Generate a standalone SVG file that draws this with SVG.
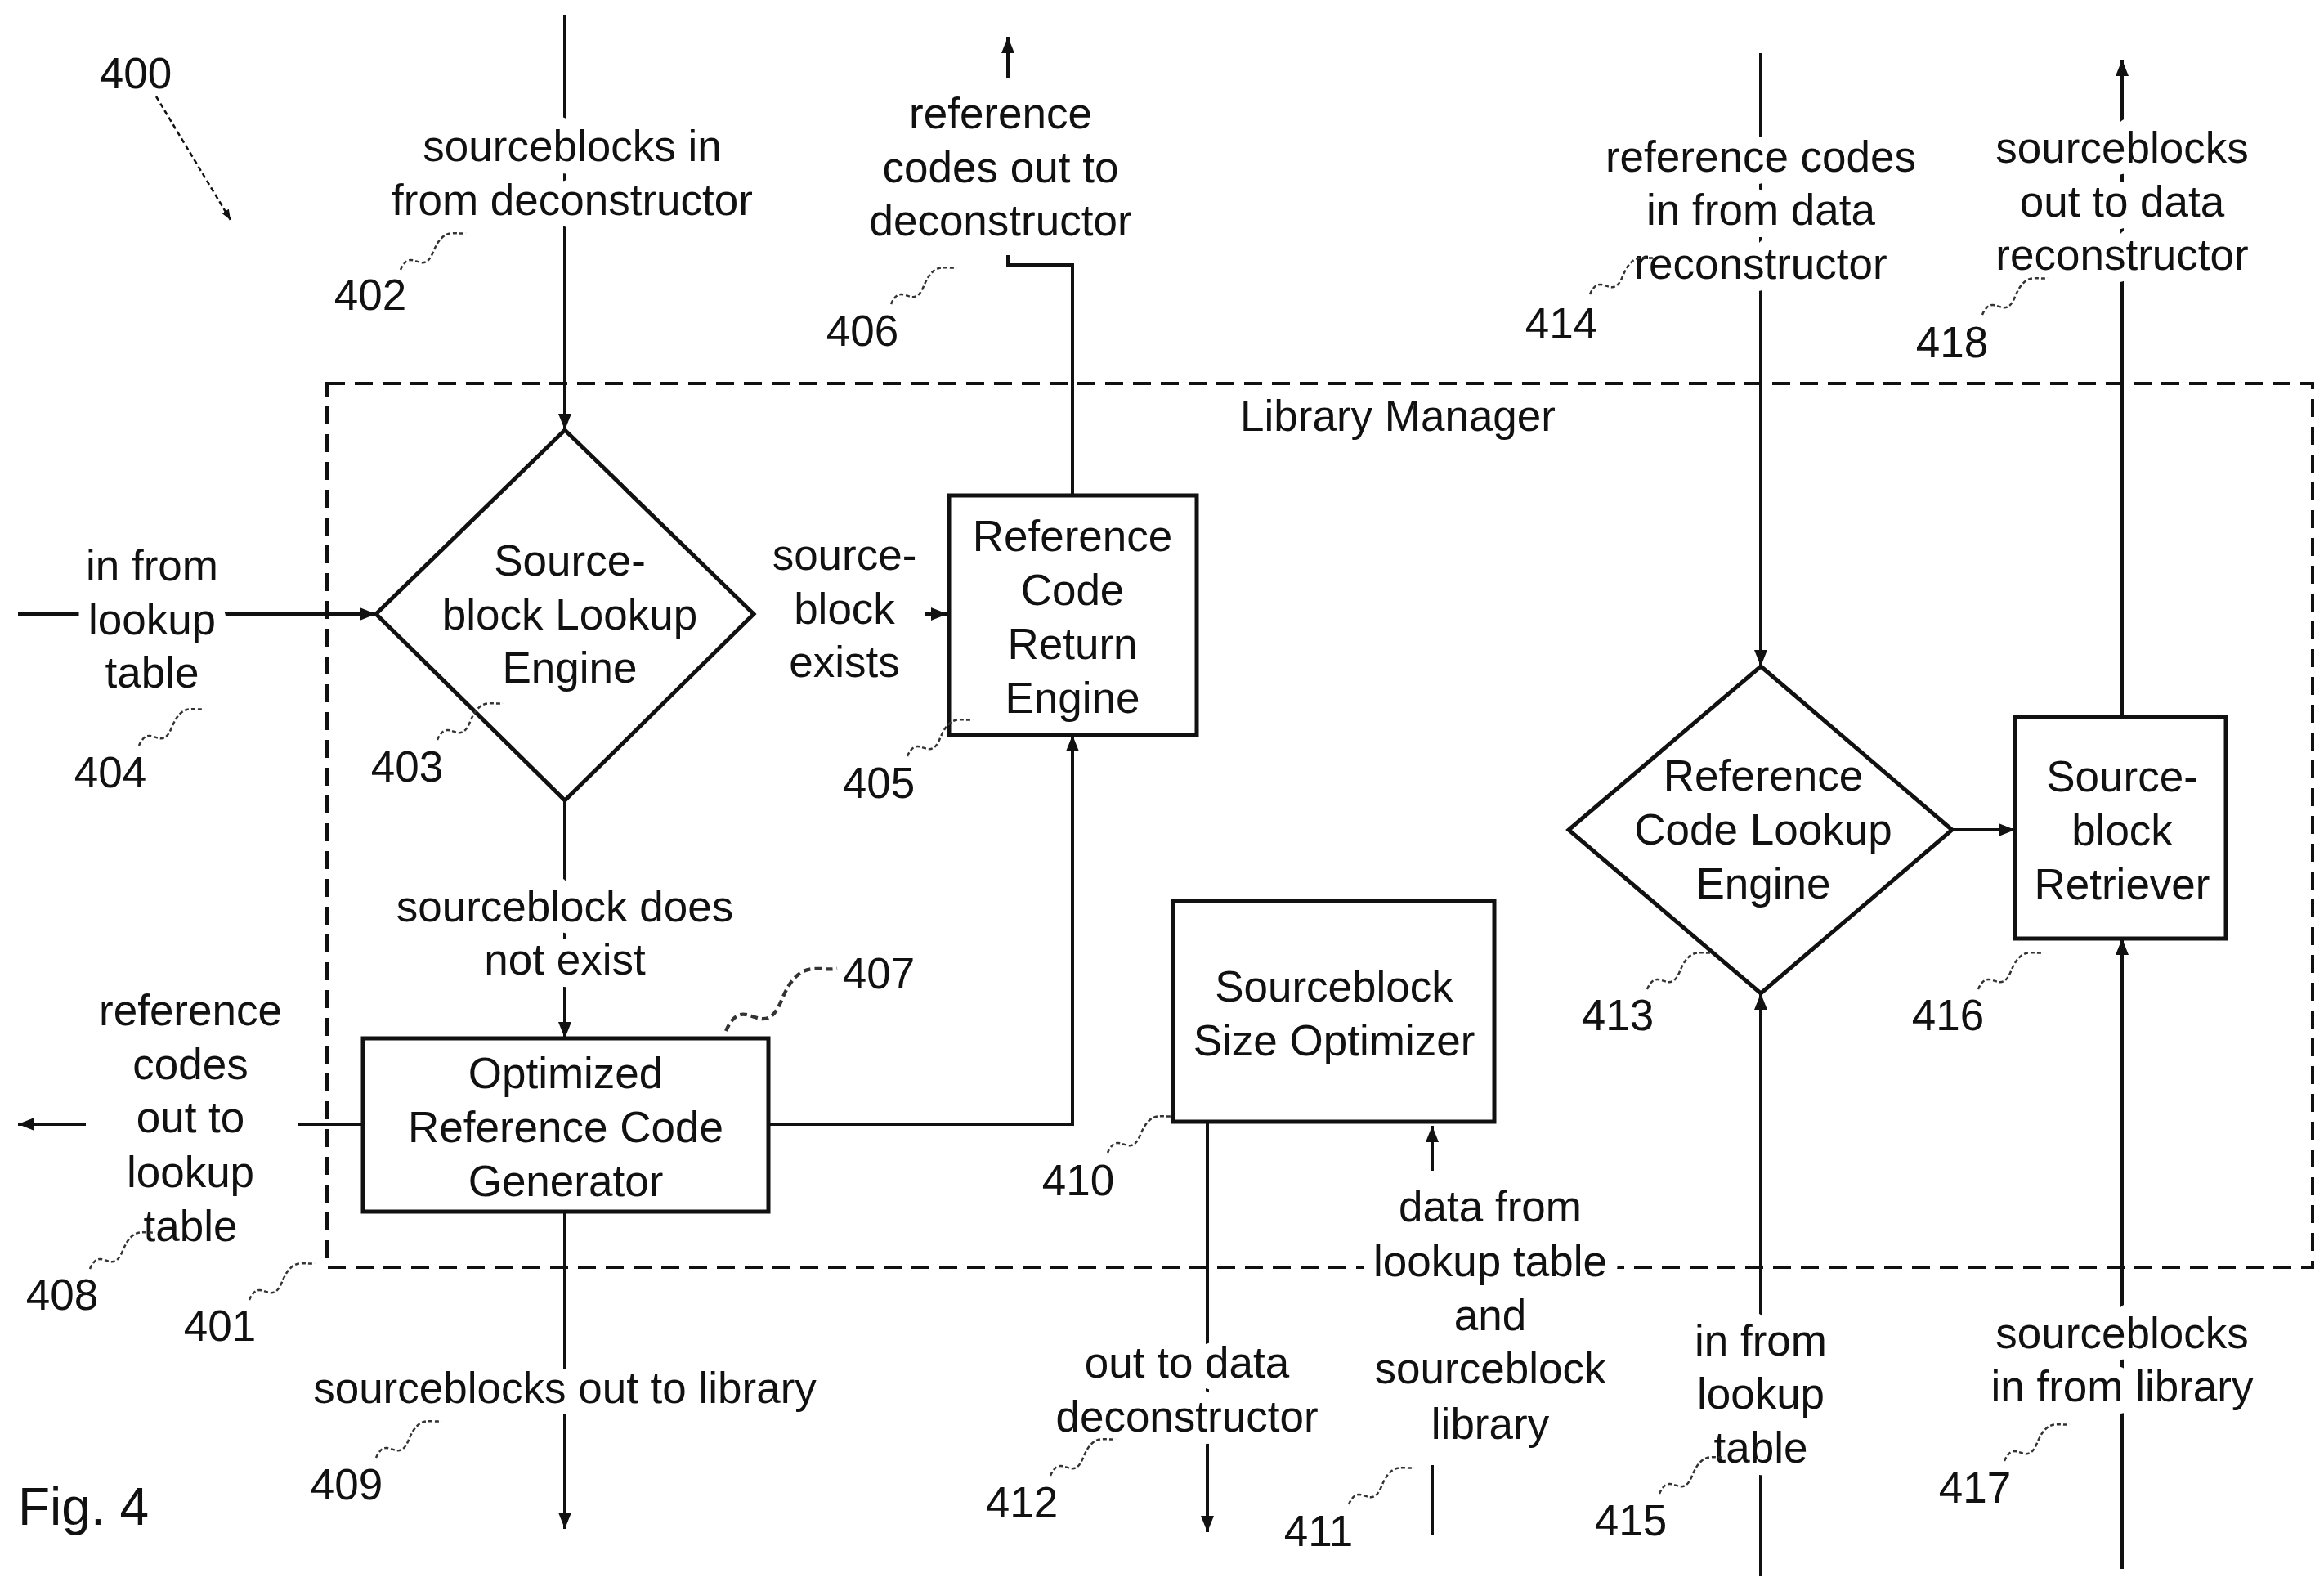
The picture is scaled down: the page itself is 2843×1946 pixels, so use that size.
<svg xmlns="http://www.w3.org/2000/svg" xmlns:xlink="http://www.w3.org/1999/xlink" width="2843" height="1946" viewBox="0 0 2843 1946">
<style>
text{font-family:"Liberation Sans",Arial,sans-serif;font-size:53px;fill:#111;text-anchor:middle;dominant-baseline:central}
.h{stroke:#fff;stroke-width:30px;paint-order:stroke;stroke-linejoin:round}
.n{fill:#fff;stroke:#111;stroke-width:5}
.l{fill:none;stroke:#111;stroke-width:4}
.sq{fill:none;stroke:#333;stroke-width:2.5;stroke-dasharray:5 3}
</style>
<defs>
<marker id="a" viewBox="0 0 10 10" refX="10" refY="5" markerWidth="5" markerHeight="5" orient="auto" markerUnits="strokeWidth"><path d="M0,1 L10,5 L0,9 z" fill="#111"/></marker>
<path id="sq" d="M0 0 c 13 -30, 27 10, 40 -22 s 27 -20, 40 -23"/>
</defs>
<rect width="2843" height="1946" fill="#fff"/>
<rect x="400" y="469" width="2429" height="1081" fill="none" stroke="#111" stroke-width="4" stroke-dasharray="22 12"/>
<text x="1710" y="508" class="h">Library Manager</text>
<g id="connectors" class="l">
<path d="M691 18 V526" marker-end="url(#a)"/>
<path d="M691 979 V1270" marker-end="url(#a)"/>
<path d="M22 751 H460" marker-end="url(#a)"/>
<path d="M1131 751 H1159" marker-end="url(#a)"/>
<path d="M1312 606 V324 H1233 V312"/>
<path d="M1233 95 V45" marker-end="url(#a)"/>
<path d="M940 1375 H1312 V899" marker-end="url(#a)"/>
<path d="M444 1375 H364"/>
<path d="M105 1375 H22" marker-end="url(#a)"/>
<path d="M691 1482 V1870" marker-end="url(#a)"/>
<path d="M1477 1372 V1874" marker-end="url(#a)"/>
<path d="M1752 1432 V1377" marker-end="url(#a)"/>
<path d="M1752 1792 V1877"/>
<path d="M2154 65 V815" marker-end="url(#a)"/>
<path d="M2154 1928 V1215" marker-end="url(#a)"/>
<path d="M2388 1015 H2465" marker-end="url(#a)"/>
<path d="M2596 877 V73" marker-end="url(#a)"/>
<path d="M2596 1919 V1148" marker-end="url(#a)"/>
<path d="M191 118 L282 269" stroke-width="2.5" stroke-dasharray="6 4" marker-end="url(#a)"/>
</g>
<g id="n403"><path class="n" d="M691 526 L922 751 L691 979 L460 751 z"/>
<text x="697" y="685">Source-</text><text x="697" y="751">block Lookup</text><text x="697" y="816">Engine</text></g>
<g id="n405"><rect class="n" x="1161" y="606" width="303" height="293"/>
<text x="1312" y="655">Reference</text><text x="1312" y="721">Code</text><text x="1312" y="787">Return</text><text x="1312" y="853">Engine</text></g>
<g id="n407"><rect class="n" x="444" y="1270" width="496" height="212"/>
<text x="692" y="1312">Optimized</text><text x="692" y="1378">Reference Code</text><text x="692" y="1444">Generator</text></g>
<g id="n410"><rect class="n" x="1435" y="1102" width="393" height="270"/>
<text x="1632" y="1206">Sourceblock</text><text x="1632" y="1272">Size Optimizer</text></g>
<g id="n413"><path class="n" d="M2154 815 L2388 1015 L2154 1215 L1919 1015 z"/>
<text x="2157" y="948">Reference</text><text x="2157" y="1014">Code Lookup</text><text x="2157" y="1080">Engine</text></g>
<g id="n416"><rect class="n" x="2465" y="877" width="258" height="271"/>
<text x="2596" y="949">Source-</text><text x="2596" y="1015">block</text><text x="2596" y="1081">Retriever</text></g>
<g id="labels">
<text x="700" y="178" class="h">sourceblocks in</text><text x="700" y="244" class="h">from deconstructor</text>
<text x="1224" y="138" class="h">reference</text><text x="1224" y="204" class="h">codes out to</text><text x="1224" y="269" class="h">deconstructor</text>
<text x="2154" y="191" class="h">reference codes</text><text x="2154" y="256" class="h">in from data</text><text x="2154" y="322" class="h">reconstructor</text>
<text x="2596" y="180" class="h">sourceblocks</text><text x="2596" y="246" class="h">out to data</text><text x="2596" y="311" class="h">reconstructor</text>
<text x="186" y="691" class="h">in from</text><text x="186" y="757" class="h">lookup</text><text x="186" y="822" class="h">table</text>
<text x="1033" y="678" class="h">source-</text><text x="1033" y="744" class="h">block</text><text x="1033" y="809" class="h">exists</text>
<text x="691" y="1108" class="h">sourceblock does</text><text x="691" y="1173" class="h">not exist</text>
<text x="233" y="1235" class="h">reference</text><text x="233" y="1301" class="h">codes</text><text x="233" y="1366" class="h">out to</text><text x="233" y="1433" class="h">lookup</text><text x="233" y="1499" class="h">table</text>
<text x="691" y="1697" class="h">sourceblocks out to library</text>
<text x="1452" y="1666" class="h">out to data</text><text x="1452" y="1732" class="h">deconstructor</text>
<text x="1823" y="1475" class="h">data from</text><text x="1823" y="1542" class="h">lookup table</text><text x="1823" y="1608" class="h">and</text><text x="1823" y="1673" class="h">sourceblock</text><text x="1823" y="1741" class="h">library</text>
<text x="2154" y="1639" class="h">in from</text><text x="2154" y="1704" class="h">lookup</text><text x="2154" y="1770" class="h">table</text>
<text x="2596" y="1630" class="h">sourceblocks</text><text x="2596" y="1695" class="h">in from library</text>
<text x="166" y="89">400</text><text x="453" y="360">402</text><text x="1055" y="404">406</text><text x="1910" y="395">414</text><text x="2388" y="418">418</text>
<text x="135" y="944">404</text><text x="498" y="937">403</text><text x="1075" y="957">405</text><text x="1075" y="1190">407</text>
<text x="1979" y="1241">413</text><text x="2383" y="1241">416</text><text x="1319" y="1443">410</text>
<text x="76" y="1583">408</text><text x="269" y="1621">401</text><text x="424" y="1815">409</text><text x="1250" y="1837">412</text>
<text x="1613" y="1872">411</text><text x="1995" y="1859">415</text><text x="2416" y="1819">417</text>
<text x="22" y="1843" style="text-anchor:start;font-size:64px">Fig. 4</text>
</g>
<g id="leaders" class="sq">
<use href="#sq" x="490" y="330"/><use href="#sq" x="1090" y="372"/><use href="#sq" x="1945" y="360"/><use href="#sq" x="2425" y="385"/>
<use href="#sq" x="170" y="912"/><use href="#sq" x="535" y="905"/><use href="#sq" x="1110" y="925"/>
<use href="#sq" transform="translate(888 1261) scale(1.7)"/>
<use href="#sq" x="2015" y="1210"/><use href="#sq" x="2420" y="1210"/><use href="#sq" x="1355" y="1410"/>
<use href="#sq" x="110" y="1552"/><use href="#sq" x="305" y="1590"/><use href="#sq" x="460" y="1783"/><use href="#sq" x="1285" y="1805"/>
<use href="#sq" x="1650" y="1840"/><use href="#sq" x="2030" y="1827"/><use href="#sq" x="2452" y="1787"/>
</g>
</svg>
